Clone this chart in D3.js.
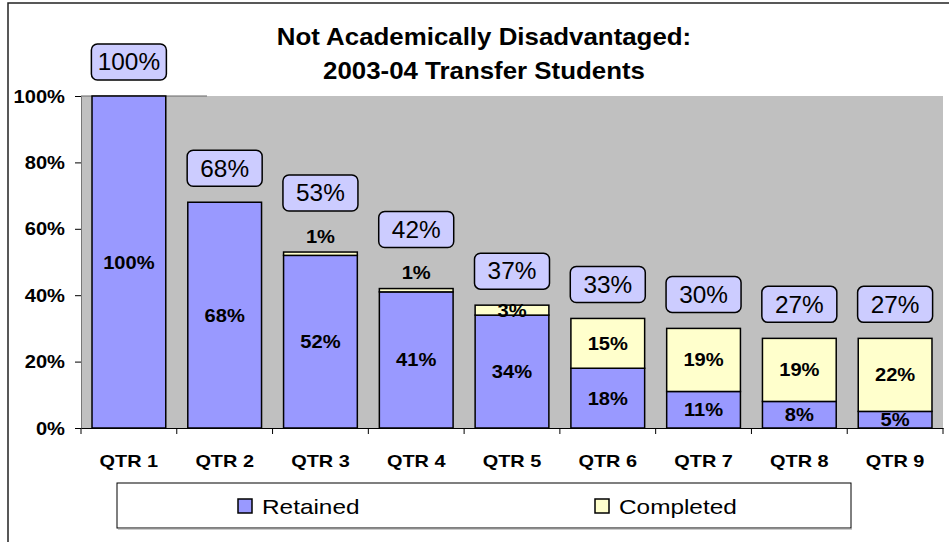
<!DOCTYPE html>
<html>
<head>
<meta charset="utf-8">
<script src="https://cdn.jsdelivr.net/npm/d3@7"></script>
<style>
  html, body { margin: 0; padding: 0; background: #fff; }
  svg { display: block; }
  text { font-family: "Liberation Sans", Arial, sans-serif; fill: #000; }
</style>
</head>
<body>
<svg id="chart" width="949" height="542"></svg>
<script>
const categories = ["QTR 1", "QTR 2", "QTR 3", "QTR 4", "QTR 5", "QTR 6", "QTR 7", "QTR 8", "QTR 9"];
const retained  = [100, 68, 52, 41, 34, 18, 11, 8, 5];
const completed = [0, 0, 1, 1, 3, 15, 19, 19, 22];
const totals    = [100, 68, 53, 42, 37, 33, 30, 27, 27];
const yTicks    = [0, 20, 40, 60, 80, 100];
const seriesNames = ["Retained", "Completed"];
const titleLines = ["Not Academically Disadvantaged:", "2003-04 Transfer Students"];

const colors = { Retained: "#9999ff", Completed: "#ffffcc" };

const svg = d3.select("#chart");
const plot = { left: 81, right: 943, top: 96, bottom: 428 };

const x = d3.scaleBand().domain(categories).range([plot.left, plot.right])
  .paddingInner(0.23).paddingOuter(0.115);
const y = d3.scaleLinear().domain([0, 100]).range([plot.bottom, plot.top]);

// outer chart border (cropped)
svg.append("path").attr("d", "M8,542V3H949").attr("fill", "none")
  .attr("stroke", "#222").attr("stroke-width", 1.5);

// plot background
svg.append("rect").attr("x", plot.left).attr("y", plot.top)
  .attr("width", plot.right - plot.left).attr("height", plot.bottom - plot.top)
  .attr("fill", "#c0c0c0");
svg.append("line").attr("x1", plot.left).attr("x2", 207).attr("y1", plot.top).attr("y2", plot.top)
  .attr("stroke", "#666").attr("stroke-width", 1);

// title
const scaleT = (sx) => `scale(${sx},1)`;
titleLines.forEach((t, i) => {
  svg.append("text").attr("transform", `translate(484,${45 + i * 34.3}) ${scaleT(1.125)}`)
    .attr("text-anchor", "middle").attr("font-size", 23).attr("font-weight", "bold").text(t);
});

// data
const data = categories.map((c, i) => ({ cat: c, Retained: retained[i], Completed: completed[i], total: totals[i] }));
const stacked = d3.stack().keys(seriesNames)(data);

svg.append("clipPath").attr("id", "plotclip").append("rect")
  .attr("x", plot.left).attr("y", plot.top - 40).attr("width", plot.right - plot.left)
  .attr("height", plot.bottom - plot.top + 40);

const barsG = svg.append("g");
stacked.forEach(s => {
  barsG.selectAll(null).data(s.filter(d => d[1] - d[0] > 0)).join("rect")
    .attr("x", d => x(d.data.cat))
    .attr("y", d => y(d[1]))
    .attr("width", x.bandwidth())
    .attr("height", d => y(d[0]) - y(d[1]))
    .attr("fill", colors[s.key])
    .attr("stroke", "#000").attr("stroke-width", 1.5);
});

// y axis
const yAxis = d3.axisLeft(y).tickValues(yTicks).tickSize(6).tickFormat(d => d + "%");
const yg = svg.append("g").attr("transform", `translate(${plot.left},0)`).call(yAxis);
yg.select(".domain").attr("stroke", "#777").attr("stroke-width", 1);
yg.selectAll(".tick line").attr("stroke", "#000");
yg.selectAll(".tick text").remove();
yTicks.forEach(t => {
  svg.append("text").attr("transform", `translate(65,${y(t) + 6.5}) ${scaleT(1.15)}`)
    .attr("text-anchor", "end").attr("font-size", 17.5).attr("font-weight", "bold").text(t + "%");
});

// x axis
const xAxis = d3.axisBottom(x).tickSize(0).tickFormat("");
const xg = svg.append("g").attr("transform", `translate(0,${plot.bottom})`).call(xAxis);
xg.select(".domain").attr("stroke", "#000").attr("stroke-width", 1.2);
const boundaries = categories.map(c => x(c) - x.step() * x.paddingInner() / 2).concat([plot.right]);
boundaries[0] = plot.left;
svg.append("g").selectAll("line").data(boundaries).join("line")
  .attr("x1", d => d).attr("x2", d => d).attr("y1", plot.bottom).attr("y2", plot.bottom + 6)
  .attr("stroke", "#000");
categories.forEach(c => {
  svg.append("text").attr("transform", `translate(${x(c) + x.bandwidth() / 2},467) ${scaleT(1.17)}`)
    .attr("text-anchor", "middle").attr("font-size", 17).attr("font-weight", "bold").text(c);
});

// segment labels
const labelsG = svg.append("g").attr("clip-path", "url(#plotclip)");
data.forEach(d => {
  const cx = x(d.cat) + x.bandwidth() / 2;
  const rc = (y(0) + y(d.Retained)) / 2;
  labelsG.append("text").attr("transform", `translate(${cx},${rc + 6.5}) ${scaleT(1.15)}`)
    .attr("text-anchor", "middle").attr("font-size", 17.5).attr("font-weight", "bold")
    .text(d.Retained + "%");
  if (d.Completed > 0) {
    let cy = (y(d.Retained) + y(d.Retained + d.Completed)) / 2;
    if (d.Completed < 2) cy = y(d.Retained + d.Completed) - 16;
    labelsG.append("text").attr("transform", `translate(${cx},${cy + 6.5}) ${scaleT(1.15)}`)
      .attr("text-anchor", "middle").attr("font-size", 17.5).attr("font-weight", "bold")
      .text(d.Completed + "%");
  }
});

// total callouts
const boxW = 75, boxH = 36;
data.forEach(d => {
  const cx = x(d.cat) + x.bandwidth() / 2;
  const top = y(d.Retained + d.Completed);
  const gap = (d.Completed > 0 && d.Completed < 2) ? 41 : 16;
  const by = top - gap - boxH;
  svg.append("rect").attr("x", cx - boxW / 2).attr("y", by).attr("width", boxW).attr("height", boxH)
    .attr("rx", 6).attr("ry", 6).attr("fill", "#ccccff").attr("stroke", "#000").attr("stroke-width", 1.5);
  svg.append("text").attr("transform", `translate(${cx},${by + boxH / 2 + 8.3}) ${scaleT(1.06)}`)
    .attr("text-anchor", "middle").attr("font-size", 23).text(d.total + "%");
});

// legend
const lg = svg.append("g");
lg.append("rect").attr("x", 117).attr("y", 483).attr("width", 734).attr("height", 45)
  .attr("fill", "#fff").attr("stroke", "#000").attr("stroke-width", 1);
lg.append("line").attr("x1", 118).attr("x2", 852).attr("y1", 529).attr("y2", 529)
  .attr("stroke", "#999").attr("stroke-width", 1);
const legendX = [238, 595];
seriesNames.forEach((s, i) => {
  lg.append("rect").attr("x", legendX[i]).attr("y", 499).attr("width", 14).attr("height", 14)
    .attr("fill", colors[s]).attr("stroke", "#000").attr("stroke-width", 1.5);
  lg.append("text").attr("transform", `translate(${legendX[i] + 24},514) ${scaleT(1.16)}`)
    .attr("font-size", 21).text(s);
});
</script>
</body>
</html>
